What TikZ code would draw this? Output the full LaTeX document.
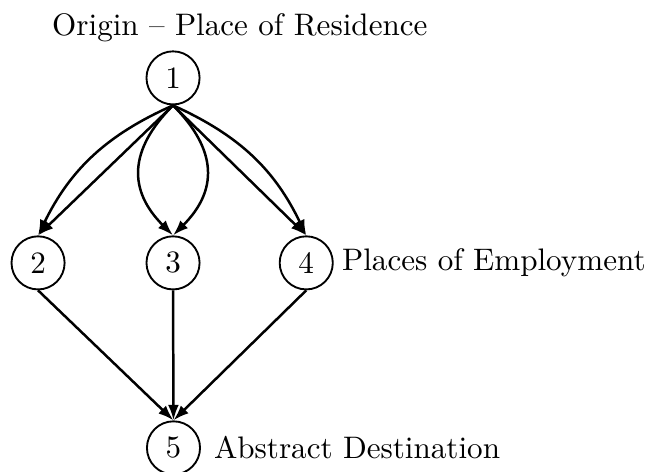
\documentclass[tikz,border=0pt]{standalone}
\usepackage{tikz}
\usetikzlibrary{arrows.meta, positioning}

\begin{document}
\begin{tikzpicture}[
    place/.style={circle, draw, semithick, minimum size=0.6cm, inner sep=0pt},
    flow/.style={-{Latex[length=5pt,width=3.5pt]}, thick},
    caption/.style={inner sep=1pt}
]
\useasboundingbox (0,0) rectangle (7.31,5.33);

\node[place] (N1) at (1.955,4.45) {1};
\node[place] (N2) at (0.43,2.36) {2};
\node[place] (N3) at (1.955,2.36) {3};
\node[place] (N4) at (3.46,2.36) {4};
\node[place] (N5) at (1.96,0.27) {5};

\node[caption] (origin) at (2.71,5.02) {Origin -- Place of Residence};
\node[caption, right=1.5pt of N4] (work) {Places of Employment};
\node[caption, right=3pt of N5] (dest) {Abstract Destination};

% trips out of the residence
\draw[flow] (N1.south) to[bend right=20] (N2.north);
\draw[flow] (N1.south) -- (N2.north);
\draw[flow] (N1.south) to[out=-135, in=135, looseness=1.25] (N3.north);
\draw[flow] (N1.south) to[out=-45, in=45, looseness=1.25] (N3.north);
\draw[flow] (N1.south) -- (N4.north);
\draw[flow] (N1.south) to[bend left=20] (N4.north);

% on to the destination
\draw[flow] (N2.south) -- (N5.north);
\draw[flow] (N3.south) -- (N5.north);
\draw[flow] (N4.south) -- (N5.north);

\end{tikzpicture}
\end{document}
